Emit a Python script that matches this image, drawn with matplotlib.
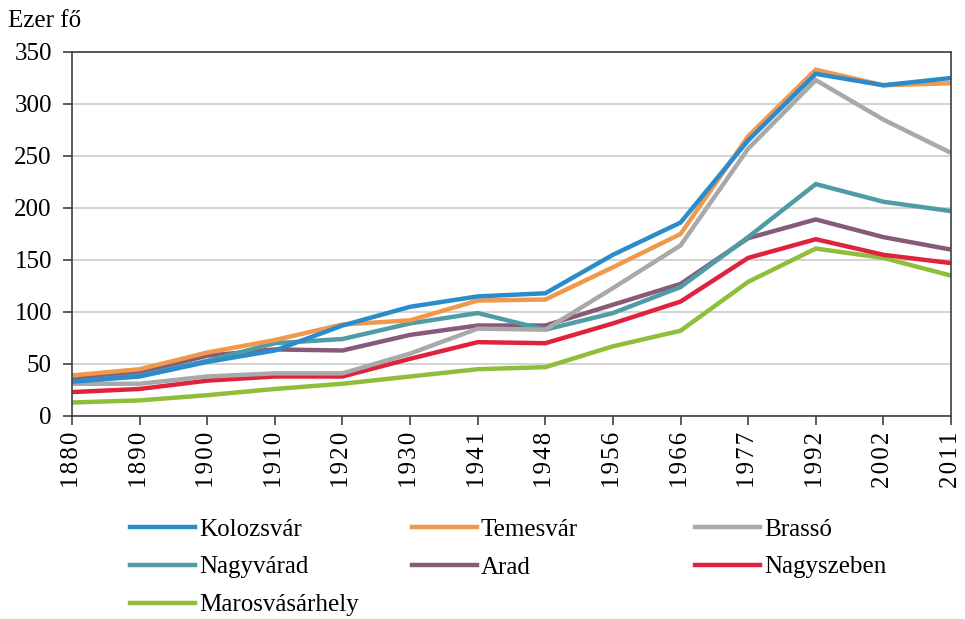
import matplotlib
matplotlib.use('Agg')
import matplotlib.pyplot as plt
from matplotlib.lines import Line2D

plt.rcParams['font.family'] = ['Liberation Serif', 'DejaVu Serif']

years = ['1880', '1890', '1900', '1910', '1920', '1930', '1941',
         '1948', '1956', '1966', '1977', '1992', '2002', '2011']

kolozsvar = [33, 38, 52, 63, 87, 105, 115, 118, 155, 186, 265, 329, 318, 325]
temesvar = [39, 45, 61, 73, 88, 92, 111, 112, 143, 175, 269, 333, 318, 320]
brasso = [31, 31, 38, 41, 41, 60, 84, 83, 123, 164, 257, 323, 285, 253]
nagyvarad = [33, 39, 53, 70, 74, 89, 99, 83, 99, 124, 172, 223, 206, 197]
arad = [36, 42, 58, 64, 63, 78, 87, 87, 107, 127, 171, 189, 172, 160]
nagyszeben = [23, 26, 34, 38, 38, 55, 71, 70, 89, 110, 152, 170, 155, 147]
marosvasarhely = [13, 15, 20, 26, 31, 38, 45, 47, 67, 82, 129, 161, 152, 135]

series = [
    ('Kolozsvár', kolozsvar, '#2b8ccb'),
    ('Temesvár', temesvar, '#f0984c'),
    ('Brassó', brasso, '#a9a9a9'),
    ('Nagyvárad', nagyvarad, '#4f9ba6'),
    ('Arad', arad, '#875a78'),
    ('Nagyszeben', nagyszeben, '#e0233d'),
    ('Marosvásárhely', marosvasarhely, '#8fbe3b'),
]

fig = plt.figure(figsize=(9.65, 6.19), dpi=100)
ax = fig.add_axes([72 / 965, 1 - 416 / 619, 879 / 965, 364 / 619])

x = list(range(len(years)))
handles = []
# draw from back to front so the ordering matches the original overlaps
for name, vals, col in reversed(series):
    ax.plot(x, vals, color=col, lw=3.2, solid_capstyle='butt', solid_joinstyle='miter')
for name, vals, col in series:
    handles.append(Line2D([], [], color=col, lw=3.2, label=name))

ax.set_xlim(0, len(years) - 1)
ax.set_ylim(0, 350)
ax.set_yticks(range(0, 351, 50))
ax.set_xticks(x)
ax.set_xticklabels(['\u200a'.join(y) for y in years], rotation=90)
ax.yaxis.grid(True, color='#c8c8c8', lw=1.1)
ax.set_axisbelow(True)
for sp in ax.spines.values():
    sp.set_color('#404040')
    sp.set_linewidth(1.2)
ax.tick_params(axis='both', labelsize=18, color='#404040', length=6.5, width=1.2,
               direction='out')
ax.tick_params(axis='y', pad=8)
ax.tick_params(axis='x', pad=5)

fig.text(8 / 965, 1 - 27 / 619, 'Ezer fő', fontsize=18, va='baseline', ha='left')

# legend in three columns, filled row by row
col_x = [130, 412, 695]
for c in range(3):
    hs = handles[c::3]
    fig.legend(handles=hs, loc='upper left', bbox_to_anchor=(col_x[c] / 965, 1 - 518 / 619),
               frameon=False, fontsize=18, handlelength=2.6, handletextpad=0.15,
               borderpad=0, borderaxespad=0, labelspacing=0.62)

fig.savefig('out.png', dpi=100)
